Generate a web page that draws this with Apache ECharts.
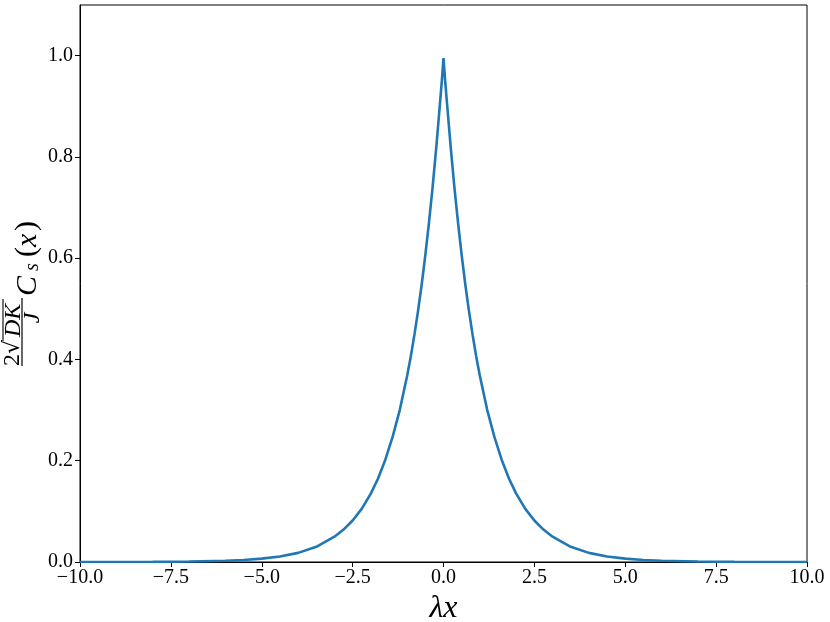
<!DOCTYPE html>
<html>
<head>
<meta charset="utf-8">
<script src="https://cdn.jsdelivr.net/npm/echarts@6/dist/echarts.min.js"></script>
<style>
html,body{margin:0;padding:0;background:#fff;}
#chart{width:830px;height:622px;}
</style>
</head>
<body>
<div id="chart"></div>
<script>
// right half of the (symmetric) curve: lambda*x and value
var xHalf = [0, 0.05, 0.1, 0.2, 0.3, 0.4, 0.5, 0.6, 0.7, 0.8, 0.9, 1.0, 1.2, 1.4, 1.6, 1.8, 2.0, 2.25, 2.5, 2.75, 3.0, 3.5, 4.0, 4.5, 5.0, 5.5, 6.0, 7.0, 8.0, 9.0, 10.0];
var yHalf = [0.995, 0.946, 0.903, 0.818, 0.740, 0.670, 0.606, 0.548, 0.496, 0.449, 0.406, 0.368, 0.301, 0.247, 0.202, 0.165, 0.135, 0.105, 0.082, 0.064, 0.050, 0.030, 0.018, 0.011, 0.0067, 0.0041, 0.0025, 0.0009, 0.0003, 0.0001, 0.0000];
var xTicks = [-10, -7.5, -5, -2.5, 0, 2.5, 5, 7.5, 10];
var yTicks = [0, 0.2, 0.4, 0.6, 0.8, 1.0];

var pts = [];
for (var i = xHalf.length - 1; i > 0; i--) pts.push([-xHalf[i], yHalf[i]]);
for (var j = 0; j < xHalf.length; j++) pts.push([xHalf[j], yHalf[j]]);

var FONT = '"Liberation Serif", "DejaVu Serif", serif';
function fmt1(v) { return v.toFixed(1).replace('-', '\u2212'); }

var chart = echarts.init(document.getElementById('chart'));
chart.setOption({
  animation: false,
  backgroundColor: '#fff',
  grid: { left: 80, right: 23, top: 5, bottom: 60, show: true, borderColor: '#000', borderWidth: 1, containLabel: false, outerBoundsMode: 'none' },
  xAxis: {
    type: 'value', min: -10, max: 10,
    axisLine: { show: true, onZero: false, lineStyle: { color: '#000', width: 1 } },
    axisTick: { show: true, inside: false, length: 5, lineStyle: { color: '#000' }, customValues: xTicks },
    axisLabel: { customValues: xTicks, formatter: fmt1, color: '#000', fontFamily: FONT, fontSize: 20, margin: 6 },
    splitLine: { show: false },
    name: '\u03BBx', nameLocation: 'middle', nameGap: 29,
    nameTextStyle: { fontFamily: FONT, fontStyle: 'italic', fontSize: 32, color: '#000' }
  },
  yAxis: {
    type: 'value', min: 0, max: 1.1,
    axisLine: { show: true, onZero: false, lineStyle: { color: '#000', width: 1 } },
    axisTick: { show: true, inside: false, length: 5, lineStyle: { color: '#000' }, customValues: yTicks },
    axisLabel: { customValues: yTicks, formatter: fmt1, color: '#000', fontFamily: FONT, fontSize: 20, margin: 7 },
    splitLine: { show: false }
  },
  series: [{
    type: 'line', data: pts, showSymbol: false, smooth: false,
    lineStyle: { color: '#1f77b4', width: 2.6 }
  }],
  graphic: [{
    type: 'group', x: 28, y: 292, rotation: Math.PI / 2,
    children: [
      { type: 'text', style: { text: '2', x: -74, y: -15, font: '24px ' + FONT, fill: '#000', verticalAlign: 'middle', align: 'left' } },
      { type: 'text', style: { text: '\u221A', x: -62, y: -15, font: '22px "DejaVu Serif", serif', fill: '#000', verticalAlign: 'middle', align: 'left' } },
      { type: 'line', shape: { x1: -49, y1: -25, x2: -7, y2: -25 }, style: { stroke: '#000', lineWidth: 1.1 } },
      { type: 'text', style: { text: 'DK', x: -45, y: -14, font: 'italic 24px ' + FONT, fill: '#000', verticalAlign: 'middle', align: 'left' } },
      { type: 'line', shape: { x1: -74, y1: -6, x2: -6, y2: -6 }, style: { stroke: '#000', lineWidth: 1.2 } },
      { type: 'text', style: { text: 'J', x: -26, y: 5, font: 'italic 24px ' + FONT, fill: '#000', verticalAlign: 'middle', align: 'center' } },
      { type: 'text', style: { text: 'C', x: -4, y: 0, font: 'italic 30px ' + FONT, fill: '#000', verticalAlign: 'middle', align: 'left' } },
      { type: 'text', style: { text: 's', x: 21, y: 5, font: 'italic 20px ' + FONT, fill: '#000', verticalAlign: 'middle', align: 'left' } },
      { type: 'text', style: { text: '(', x: 35, y: -1, font: '30px ' + FONT, fill: '#000', verticalAlign: 'middle', align: 'left' } },
      { type: 'text', style: { text: 'x', x: 45, y: 0, font: 'italic 30px ' + FONT, fill: '#000', verticalAlign: 'middle', align: 'left' } },
      { type: 'text', style: { text: ')', x: 61, y: -1, font: '30px ' + FONT, fill: '#000', verticalAlign: 'middle', align: 'left' } }
    ]
  }]
});
</script>
</body>
</html>
